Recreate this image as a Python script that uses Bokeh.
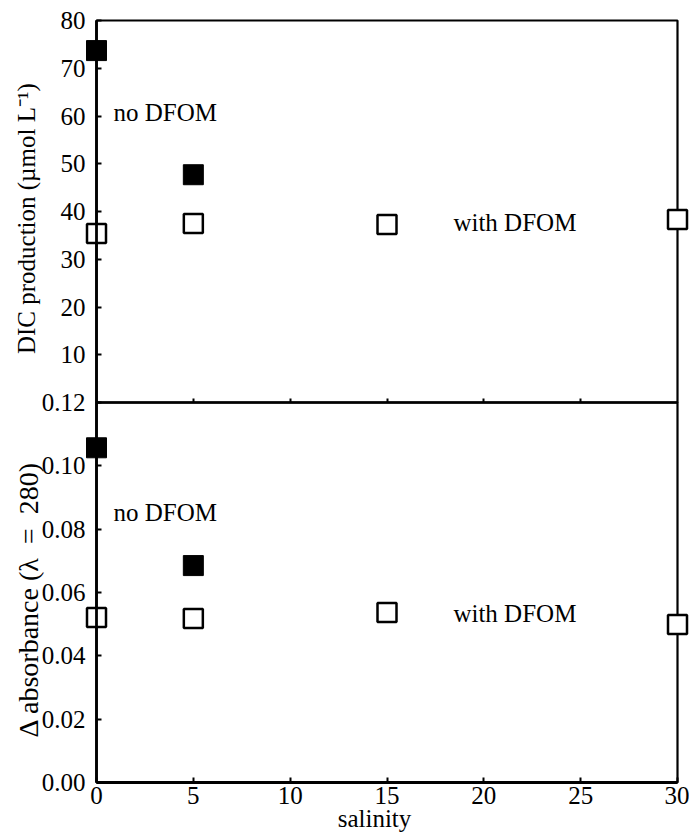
import math
from bokeh.plotting import figure
from bokeh.models import (Range1d, FixedTicker, CustomJSTickFormatter, Label,
                          BoxAnnotation, LinearAxis)
from bokeh.embed import file_html
from bokeh.resources import INLINE

# ---- data ----
sal_no_dfom = [0, 5]
dic_no_dfom = [73.7, 47.7]
sal_dfom = [0, 5, 15, 30]
dic_dfom = [35.4, 37.5, 37.3, 38.3]
abs_no_dfom = [0.1057, 0.0685]
abs_dfom = [0.0521, 0.0518, 0.0537, 0.0499]

x_ticks = [0, 5, 10, 15, 20, 25, 30]
dic_ticks = [10, 20, 30, 40, 50, 60, 70, 80]
abs_ticks = [0.00, 0.02, 0.04, 0.06, 0.08, 0.10, 0.12]

X_MIN, X_MAX = 0, 30
DIC_MAX = 80
ABS_MAX = 0.12

# ---- layout (pixel positions of the frame on the canvas) ----
W, H = 689, 832
PX_X0, PX_X30 = 96, 677       # x = 0 and x = 30
PX_TOP, PX_MID, PX_BOT = 20, 402, 782   # top of upper panel, panel boundary, bottom of lower panel
FONT = "Liberation Serif"

ux = (PX_X30 - PX_X0) / (X_MAX - X_MIN)            # px per salinity unit
uy_dic = (PX_MID - PX_TOP) / DIC_MAX                # px per DIC unit
uy_abs = (PX_BOT - PX_MID) / ABS_MAX                # px per absorbance unit

x_range = Range1d(X_MIN - PX_X0 / ux, X_MAX + (W - PX_X30) / ux)
y_range = Range1d(-(H - PX_MID) / uy_dic, DIC_MAX + PX_TOP / uy_dic)      # upper panel units
abs_range = Range1d(-(H - PX_BOT) / uy_abs, ABS_MAX + PX_MID / uy_abs)    # lower panel units
dic_floor = -(PX_BOT - PX_MID) / uy_dic      # lower panel bottom expressed in upper-panel units

p = figure(width=W, height=H, output_backend="svg", toolbar_location=None,
           x_range=x_range, y_range=y_range,
           min_border_left=0, min_border_right=0, min_border_top=0, min_border_bottom=0)
p.extra_y_ranges = {"abs": abs_range}
p.grid.visible = False
p.outline_line_color = None
p.background_fill_color = "white"
p.border_fill_color = "white"

# panel frames
p.add_layout(BoxAnnotation(left=X_MIN, right=X_MAX, bottom=0, top=DIC_MAX,
                           fill_color=None, line_color="black", line_alpha=1.0,
                           line_width=2.2, level="underlay"))
p.add_layout(BoxAnnotation(left=X_MIN, right=X_MAX, bottom=0, top=ABS_MAX, y_range_name="abs",
                           fill_color=None, line_color="black", line_alpha=1.0,
                           line_width=2.2, level="underlay"))

# x axis at the bottom of the lower panel
xa = p.xaxis[0]
xa.fixed_location = dic_floor
xa.bounds = (X_MIN, X_MAX)
xa.ticker = FixedTicker(ticks=x_ticks)
xa.axis_line_width = 2.8
xa.major_tick_in = 5
xa.major_tick_out = 0
xa.minor_tick_line_color = None
xa.major_tick_line_width = 2
xa.major_label_text_font = FONT
xa.major_label_text_font_size = "25px"
xa.major_label_text_color = "black"
xa.major_label_standoff = 4

# small inward ticks on the panel boundary
xb = LinearAxis(fixed_location=0, bounds=(X_MIN, X_MAX), ticker=FixedTicker(ticks=x_ticks[1:-1]),
                formatter=CustomJSTickFormatter(code="return '';"),
                axis_line_width=2, major_tick_in=4, major_tick_out=0, major_tick_line_width=2,
                minor_tick_line_color=None, major_label_text_font_size="0px")
p.add_layout(xb, "below")

# y axis: upper panel ticks in its own units, lower panel ticks mapped through the extra range
abs_pos = [y_range.start + (v - abs_range.start) / (abs_range.end - abs_range.start)
           * (y_range.end - y_range.start) for v in abs_ticks]
ya = p.yaxis[0]
ya.fixed_location = X_MIN
ya.bounds = (dic_floor, DIC_MAX)
ya.ticker = FixedTicker(ticks=dic_ticks + abs_pos)
ya.formatter = CustomJSTickFormatter(
    args=dict(s=y_range.start, e=y_range.end, as_=abs_range.start, ae=abs_range.end),
    code="""
if (tick > 0.5) { return tick.toFixed(0); }
let v = as_ + (tick - s) / (e - s) * (ae - as_);
if (Math.abs(v) < 1e-9) { v = 0; }
return v.toFixed(2);
""")
ya.major_tick_in = 5
ya.major_tick_out = 0
ya.minor_tick_line_color = None
ya.axis_line_width = 2.8
ya.major_tick_line_width = 2
ya.major_label_text_font = FONT
ya.major_label_text_font_size = "25px"
ya.major_label_text_color = "black"
ya.major_label_standoff = 11

# upper panel markers
p.scatter(sal_no_dfom, dic_no_dfom, marker="square", size=20,
          fill_color="black", line_color="black", line_width=1)
p.scatter(sal_dfom, dic_dfom, marker="square", size=19,
          fill_color="white", line_color="black", line_width=2.5)

# lower panel markers
p.scatter(sal_no_dfom, abs_no_dfom, marker="square", size=20, y_range_name="abs",
          fill_color="black", line_color="black", line_width=1)
p.scatter(sal_dfom, abs_dfom, marker="square", size=19, y_range_name="abs",
          fill_color="white", line_color="black", line_width=2.5)

# texts
def txt(x, y, s, rng="default", angle=0.0, align="left", size="25px", baseline="middle"):
    p.add_layout(Label(x=x, y=y, text=s, y_range_name=rng, angle=angle,
                       text_align=align, text_baseline=baseline,
                       text_font=FONT, text_font_size=size, text_color="black"))

txt(0.88, 60.7, "no DFOM")
txt(18.43, 37.7, "with DFOM")
txt(0.88, 0.0853, "no DFOM", rng="abs")
txt(18.43, 0.0534, "with DFOM", rng="abs")

txt((26 - PX_X0) / ux, 38.5, "DIC production (\u00b5mol L\u207b\u00b9)",
    angle=math.pi / 2, align="center", size="25px")
txt((28 - PX_X0) / ux, 0.0578, "\u0394 absorbance (\u03bb\u2002=\u2002280)", rng="abs",
    angle=math.pi / 2, align="center", size="28px")
txt((374 - PX_X0) / ux, -(831 - PX_MID) / uy_dic, "salinity", align="center", size="25px",
    baseline="bottom")

open("out.html", "w").write(file_html(p, INLINE))
